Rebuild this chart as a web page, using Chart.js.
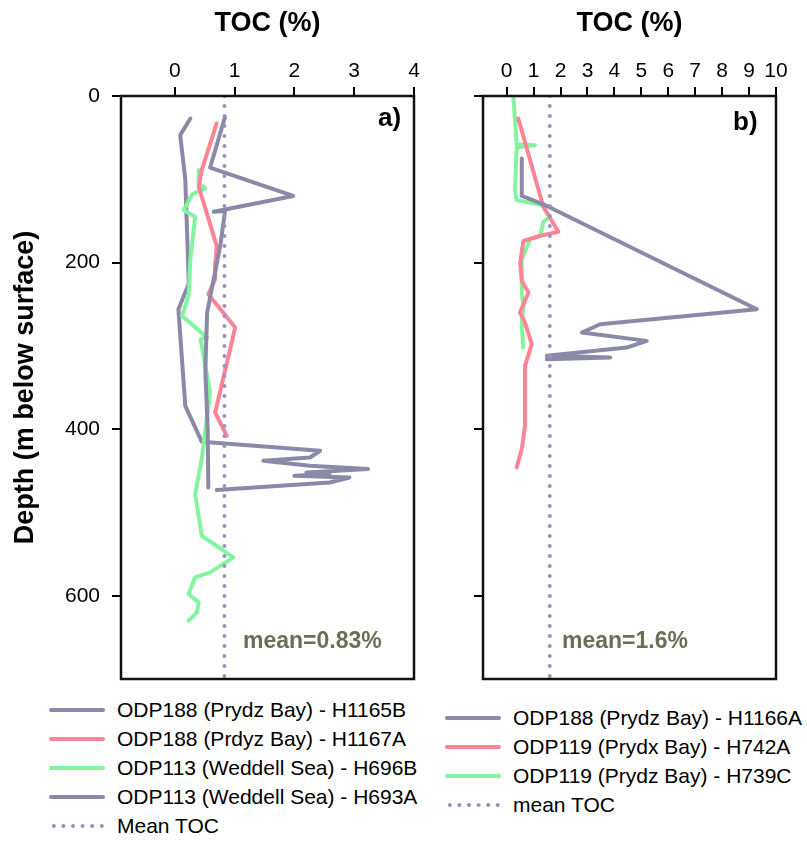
<!DOCTYPE html>
<html>
<head>
<meta charset="utf-8">
<script src="https://cdn.jsdelivr.net/npm/chart.js@4.4.1/dist/chart.umd.min.js"></script>
<style>
  body { margin: 0; background: #fff; font-family: "Liberation Sans", Arial, sans-serif; }
  .stage { position: relative; width: 807px; height: 842px; overflow: hidden; }
  .panel { position: absolute; top: 0; height: 690px; }
  .panel canvas { display: block; }
  .tag { position: absolute; font-weight: bold; font-size: 26px; line-height: 26px; color: #000; }
  .mean { position: absolute; font-weight: bold; font-size: 23px; line-height: 23px; color: #6e6e56; }
  .legend { position: absolute; font-size: 21px; color: #000; }
  .legend .row { display: flex; align-items: center; height: 29px; white-space: nowrap; }
  .legend .sw { width: 56px; height: 4px; border-radius: 2px; margin-right: 12px; flex: none; }
  .legend .sw.dots {
    height: 4px; border-radius: 0;
    background: radial-gradient(circle, #9595bd 1.7px, transparent 2.2px) 0 0 / 9.6px 4px repeat-x;
  }
</style>
</head>
<body>
<div class="stage">
  <div class="panel" style="left:0;width:430px"><canvas id="chart-a" width="430" height="690"></canvas></div>
  <div class="panel" style="left:430px;width:377px"><canvas id="chart-b" width="377" height="690"></canvas></div>
  <div class="tag" style="left:378px;top:104px">a)</div>
  <div class="tag" style="left:733px;top:108px">b)</div>
  <div class="mean" style="left:243px;top:629px">mean=0.83%</div>
  <div class="mean" style="left:562px;top:629px">mean=1.6%</div>
  <div class="legend" id="legend-a" style="left:49px;top:695px"></div>
  <div class="legend" id="legend-b" style="left:445px;top:703px"></div>
</div>
<script>
// ── Data (TOC % vs depth m) ─────────────────────────────────
const tocTicksA = [0, 1, 2, 3, 4]
const tocTicksB = [0, 1, 2, 3, 4, 5, 6, 7, 8, 9, 10]
const depthTicks = [0, 200, 400, 600]

// panel a
const h1165bToc = [0.84, 0.59, 1.98, 0.65, 0.84, 0.76, 0.65, 0.54, 0.51, 0.55, 0.56]
const h1165bDepth = [25, 86, 120, 139, 138, 180, 220, 260, 330, 400, 470]

const h1167aToc = [0.70, 0.45, 0.40, 0.70, 0.68, 0.675, 0.56, 1.01, 0.675, 0.87]
const h1167aDepth = [33, 89, 109, 180, 200, 220, 238, 278, 380, 408]

const h696bToc = [0.40, 0.40, 0.51, 0.29, 0.15, 0.34, 0.26, 0.23, 0.12, 0.54, 0.43, 0.59, 0.45, 0.34, 0.45, 0.98, 0.59, 0.34, 0.23, 0.40, 0.37, 0.23]
const h696bDepth = [89, 105, 111, 118, 137, 145, 196, 240, 264, 290, 292, 356, 436, 478, 528, 554, 572, 578, 598, 608, 620, 630]

const h693aToc = [0.26, 0.09, 0.175, 0.23, 0.23, 0.06, 0.175, 0.45, 2.43, 2.26, 1.48, 2.26, 3.23, 2.2, 2.59, 2.0, 2.92, 2.59, 0.70]
const h693aDepth = [27, 47, 100, 216, 226, 256, 372, 415, 426, 434, 438, 444, 448, 452, 454, 456, 458, 464, 473]

const meanA = 0.83

// panel b
const h1166aToc = [0.56, 0.56, 1.36, 9.29, 3.47, 2.79, 5.2, 4.46, 1.49, 3.84, 1.49]
const h1166aDepth = [75, 120, 130, 256, 274, 284, 294, 302, 312, 314, 316]

const h742aToc = [0.43, 1.36, 1.92, 1.24, 0.62, 0.50, 0.56, 0.81, 0.49, 0.68, 0.93, 0.68, 0.68, 0.56, 0.37]
const h742aDepth = [27, 133, 163, 168, 174, 200, 222, 236, 260, 272, 298, 324, 396, 424, 446]

const h739cToc = [0.25, 0.31, 0.37, 1.05, 0.37, 0.31, 0.37, 1.3, 1.61, 1.36, 1.24, 0.87, 0.56, 0.56, 0.62, 0.56, 0.62]
const h739cDepth = [3, 30, 58, 59, 62, 113, 125, 131, 145, 151, 168, 172, 196, 236, 252, 276, 302]

const meanB = 1.6

const depthRange = [0, 700]

// ── Styles ──────────────────────────────────────────────────
const GRAY = '#8a8aa8'
const PINK = '#ff8496'
const GREEN = '#84f4a0'
const DOT = '#9595bd'
const FONT = '"Liberation Sans", Arial, sans-serif'

const pts = (toc, depth) => toc.map((v, i) => ({ x: v, y: depth[i] }))

function series(label, color, toc, depth) {
  return {
    label, data: pts(toc, depth), borderColor: color, backgroundColor: color,
    borderWidth: 4, pointRadius: 0, showLine: true, tension: 0,
    borderJoinStyle: 'round', borderCapStyle: 'round', order: 2,
  }
}

function meanLine(label, v) {
  return {
    label, data: pts([v, v], depthRange), borderColor: DOT, borderWidth: 4,
    borderDash: [0, 10], borderCapStyle: 'round', pointRadius: 0, showLine: true,
    order: 1, isMean: true,
  }
}

const boxPlugin = {
  id: 'box',
  afterDraw(chart) {
    const { ctx, chartArea: a } = chart
    ctx.save()
    ctx.strokeStyle = '#111'
    ctx.lineWidth = 2.5
    ctx.strokeRect(a.left, a.top, a.right - a.left, a.bottom - a.top)
    ctx.restore()
  },
}

function options({ xMin, xTicks, xMax, yWidth, yLabels, padRight }) {
  return {
    responsive: false,
    animation: false,
    events: [],
    layout: { autoPadding: false, padding: { left: 0, top: 0, right: padRight, bottom: 11 } },
    plugins: { legend: { display: false }, tooltip: { enabled: false } },
    scales: {
      x: {
        type: 'linear', position: 'top', min: xMin, max: xMax,
        afterBuildTicks: (s) => { s.ticks = xTicks.map((v) => ({ value: v })) },
        afterFit: (s) => { s.height = 96; s.paddingLeft = 0; s.paddingRight = 0 },
        grid: { drawOnChartArea: false, drawTicks: true, tickLength: 9, color: '#000', lineWidth: 2 },
        border: { display: false },
        ticks: { color: '#000', font: { family: FONT, size: 21 }, padding: 3, maxRotation: 0 },
        title: {
          display: true, text: 'TOC (%)', color: '#000',
          font: { family: FONT, size: 27, weight: 'bold' }, padding: { top: 7, bottom: 0 },
        },
      },
      y: {
        type: 'linear', reverse: true, min: depthRange[0], max: depthRange[1],
        afterBuildTicks: (s) => { s.ticks = depthTicks.map((v) => ({ value: v })) },
        afterFit: (s) => { s.width = yWidth; s.paddingTop = 0; s.paddingBottom = 0 },
        grid: { drawOnChartArea: false, drawTicks: true, tickLength: 9, color: '#000', lineWidth: 2 },
        border: { display: false },
        ticks: {
          color: '#000', font: { family: FONT, size: 21 }, padding: 12,
          callback: (v) => (yLabels ? v : ''),
        },
        title: {
          display: yLabels, text: 'Depth (m below surface)', color: '#000',
          font: { family: FONT, size: 27, weight: 'bold' }, padding: { top: 9, bottom: 0 },
        },
      },
    },
  }
}

const chartA = new Chart(document.getElementById('chart-a'), {
  type: 'scatter',
  data: {
    datasets: [
      series('ODP188 (Prydz Bay) - H1165B', GRAY, h1165bToc, h1165bDepth),
      series('ODP188 (Prdyz Bay) - H1167A', PINK, h1167aToc, h1167aDepth),
      series('ODP113 (Weddell Sea) - H696B', GREEN, h696bToc, h696bDepth),
      series('ODP113 (Weddell Sea) - H693A', GRAY, h693aToc, h693aDepth),
      meanLine('Mean TOC', meanA),
    ],
  },
  options: options({ xMin: -0.9, xMax: 4, xTicks: tocTicksA, yWidth: 121, yLabels: true, padRight: 16 }),
  plugins: [boxPlugin],
})

const chartB = new Chart(document.getElementById('chart-b'), {
  type: 'scatter',
  data: {
    datasets: [
      series('ODP188 (Prydz Bay) - H1166A', GRAY, h1166aToc, h1166aDepth),
      series('ODP119 (Prydx Bay) - H742A', PINK, h742aToc, h742aDepth),
      series('ODP119 (Prydz Bay) - H739C', GREEN, h739cToc, h739cDepth),
      meanLine('mean TOC', meanB),
    ],
  },
  options: options({ xMin: -0.88, xMax: 10, xTicks: tocTicksB, yWidth: 53, yLabels: false, padRight: 31 }),
  plugins: [boxPlugin],
})

// ── HTML legends built from the chart datasets ──────────────
function buildLegend(chart, el) {
  el.innerHTML = chart.data.datasets.map((ds) => {
    const sw = ds.isMean
      ? '<span class="sw dots"></span>'
      : `<span class="sw" style="background:${ds.borderColor}"></span>`
    return `<div class="row">${sw}<span>${ds.label}</span></div>`
  }).join('')
}
buildLegend(chartA, document.getElementById('legend-a'))
buildLegend(chartB, document.getElementById('legend-b'))
</script>
</body>
</html>
